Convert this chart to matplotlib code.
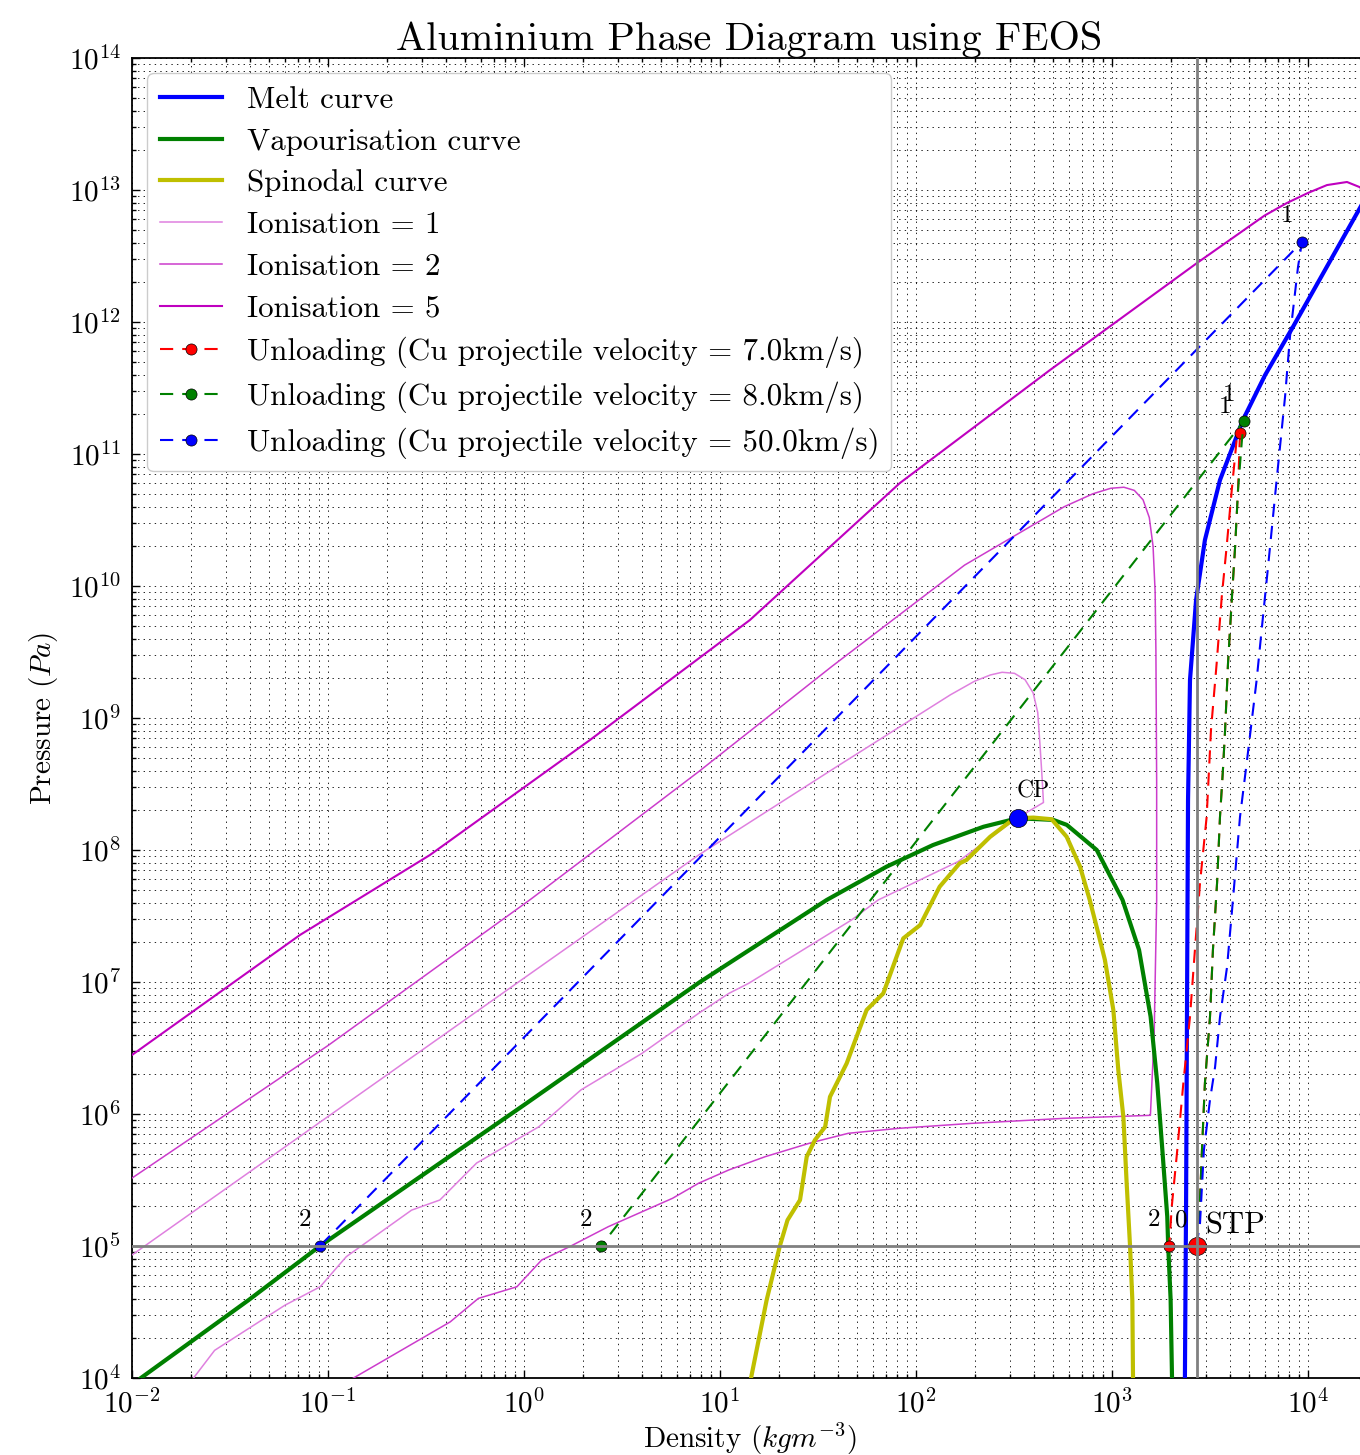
import numpy as np
import matplotlib
matplotlib.use("Agg")
import matplotlib.pyplot as plt
from matplotlib.ticker import LogLocator, NullFormatter

plt.rcParams['font.family'] = 'serif'
plt.rcParams['font.serif'] = ['cmr10']
plt.rcParams['mathtext.fontset'] = 'cm'
plt.rcParams['axes.formatter.use_mathtext'] = True
plt.rcParams['lines.scale_dashes'] = False

# ---------------- data ----------------
stp_rho, stp_P = 2700.0, 1e5
cp_rho, cp_P = 330.0, 1.74e8

melt_rho = [2355, 2388, 2415, 2443, 2500, 2685, 2979, 3556, 4656, 6039, 8375, 12220, 18410, 20900]
melt_P = [1e4, 2.23e5, 7.31e6, 2.39e8, 1.94e9, 7.83e9, 2.23e10, 6.35e10, 1.81e11, 3.96e11,
          9.16e11, 2.48e12, 7.31e12, 1.03e13]

vap_rho = [0.0111, 0.0394, 0.091, 1.0, 7.9, 35.0, 70.8, 122, 221, 330, 502, 588, 836, 1132,
           1374, 1574, 1702, 1807, 1914, 1935, 1991, 2024]
vap_P = [1e4, 3.9e4, 1e5, 1.17e6, 1.0e7, 4.18e7, 7.48e7, 1.09e8, 1.50e8, 1.74e8, 1.69e8,
         1.55e8, 1.0e8, 4.18e7, 1.75e7, 5.46e6, 1.71e6, 5.33e5, 1.67e5, 1e5, 3.94e4, 1e4]

spin_rho = [14.4, 17.3, 20.2, 22.1, 25.6, 27.7, 30.5, 34.4, 36.4, 44.3, 49.8, 56.0, 68.1, 86.1,
            105, 132, 167, 181, 239, 302, 330, 397, 492, 587, 687, 770, 851, 920, 1016, 1077,
            1143, 1188, 1236, 1270, 1280]
spin_P = [1e4, 3.9e4, 1e5, 1.57e5, 2.23e5, 4.75e5, 6.35e5, 8.0e5, 1.35e6, 2.42e6, 3.86e6,
          6.14e6, 8.2e6, 2.14e7, 2.70e7, 5.27e7, 7.93e7, 8.4e7, 1.26e8, 1.64e8, 1.74e8,
          1.76e8, 1.71e8, 1.26e8, 7.48e7, 4.18e7, 2.34e7, 1.47e7, 6.14e6, 2.15e6, 9.5e5,
          2.99e5, 1e5, 3.9e4, 1e4]

ion1_rho = [0.01, 1.0, 7.78, 39.4, 150, 199, 240, 275, 318, 360, 396, 418, 430, 440, 447, 327,
            164, 64.1, 46.9, 14.0, 11.1, 7.78, 4.0, 1.95, 1.19, 0.573, 0.372, 0.267, 0.124,
            0.0912, 0.0603, 0.0264, 0.0206, 0.0178]
ion1_P = [8.55e4, 1.07e7, 9.16e7, 4.28e8, 1.5e9, 1.9e9, 2.12e9, 2.22e9, 2.18e9, 1.95e9,
          1.55e9, 1.1e9, 6.0e8, 3.5e8, 2.29e8, 1.74e8, 8.17e7, 4.18e7, 2.95e7, 9.77e6, 8.2e6,
          5.79e6, 2.88e6, 1.52e6, 8.0e5, 4.25e5, 2.23e5, 1.87e5, 8.3e4, 4.91e4, 3.56e4,
          1.62e4, 1e4, 7.9e3]

ion2_rho = [0.01, 0.1, 1.09, 7.78, 37.1, 177, 571, 800, 986, 1150, 1300, 1440, 1550, 1620,
            1660, 1675, 1690, 1690, 1641, 1570, 571, 191, 80.9, 45.1, 29.3, 17.0, 11.1, 7.78,
            5.73, 2.69, 1.71, 1.23, 0.92, 0.585, 0.42, 0.135, 0.112]
ion2_P = [3.27e5, 3.3e6, 4.27e7, 3.92e8, 2.45e9, 1.44e10, 3.99e10, 5.0e10, 5.50e10, 5.6e10,
          5.3e10, 4.5e10, 3.3e10, 2.0e10, 9.0e9, 3.27e9, 3.20e8, 4.18e7, 3.98e6, 9.77e5,
          9.27e5, 8.49e5, 7.78e5, 7.14e5, 6.07e5, 4.75e5, 3.77e5, 2.99e5, 2.30e5, 1.40e5,
          9.89e4, 7.83e4, 4.91e4, 4.01e4, 2.66e4, 1e4, 8.5e3]

ion5_rho = [0.01, 0.0719, 0.331, 2.17, 14.2, 82.8, 483, 2716, 6000, 7816, 10000,
            12500, 15810, 18400, 20700]
ion5_P = [2.80e6, 2.27e7, 9.16e7, 6.81e8, 5.52e9, 6.03e10, 4.33e11, 2.80e12,
          6.4e12, 7.98e12, 9.5e12, 1.09e13, 1.15e13, 1.05e13, 8.4e12]

# Unloading paths: Hugoniot from STP (0) to shocked state (1), then release to 1 bar (2)
red_hug_rho = [2700, 2780, 2877, 2979, 3162, 3273, 3436, 3556, 3681, 3776, 3908, 4093, 4246, 4395, 4498]
red_hug_P = [1e5, 1.49e5, 5.33e5, 1.72e6, 5.43e6, 1.75e7, 5.62e7, 1.78e8, 4.04e8, 8.11e8,
             2.61e9, 8.26e9, 1.97e10, 5.33e10, 1.44e11]
red_rel_rho = [4498, 4325, 4083, 3846, 3631, 3420, 3199, 3041, 2812, 2649, 2500, 2312, 2153, 2018, 1960]
red_rel_P = [1.44e11, 1.28e11, 5.33e10, 1.99e10, 8.3e9, 2.6e9, 8.11e8, 1.79e8, 5.62e7,
             1.75e7, 5.46e6, 1.71e6, 5.33e5, 1.99e5, 1e5]

green_hug_rho = [2700, 2780, 2877, 2979, 3162, 3273, 3436, 3556, 3681, 3776, 3908, 4093, 4246, 4395, 4603, 4710]
green_hug_P = [1e5, 1.49e5, 5.33e5, 1.72e6, 5.43e6, 1.75e7, 5.62e7, 1.78e8, 4.04e8, 8.11e8,
               2.61e9, 8.26e9, 1.97e10, 5.33e10, 1.28e11, 1.78e11]
green_rel_rho = [4710, 2.47]
green_rel_P = [1.78e11, 1e5]

blue_hug_rho = [2700, 2812, 2944, 3162, 3357, 3556, 3864, 4140, 4498, 4887, 5470, 5916, 6281,
                6918, 7638, 8091, 8892, 9311]
blue_hug_P = [1e5, 1.49e5, 5.33e5, 1.28e6, 2.27e6, 5.43e6, 1.30e7, 4.18e7, 1.78e8, 4.81e8,
              1.94e9, 6.21e9, 1.49e10, 6.35e10, 2.72e11, 7.74e11, 2.61e12, 4.04e12]
blue_rel_rho = [9311, 0.091]
blue_rel_P = [4.04e12, 1e5]

velocities = ['7.0', '8.0', '50.0']

# ---------------- figure ----------------
fig = plt.figure(figsize=(13.6, 14.55), dpi=100)
ax = fig.add_axes([132/1360, 1-1378/1455, (1367-132)/1360, (1378-58)/1455])
ax.set_xscale('log')
ax.set_yscale('log')

ax.plot(melt_rho, melt_P, color='b', lw=3, label='Melt curve', zorder=4)
ax.plot(vap_rho, vap_P, color='g', lw=3, label='Vapourisation curve', zorder=4)
ax.plot(spin_rho, spin_P, color=(0.75, 0.75, 0), lw=3, label='Spinodal curve', zorder=4)
ax.plot(ion1_rho, ion1_P, color='#df80df', lw=1.1, label='Ionisation = 1', zorder=3)
ax.plot(ion2_rho, ion2_P, color='#cc3ccc', lw=1.1, label='Ionisation = 2', zorder=3)
ax.plot(ion5_rho, ion5_P, color='#bf00bf', lw=1.5, label='Ionisation = 5', zorder=3)

unload = [
    (red_hug_rho, red_hug_P, red_rel_rho, red_rel_P, 'r'),
    (green_hug_rho, green_hug_P, green_rel_rho, green_rel_P, 'g'),
    (blue_hug_rho, blue_hug_P, blue_rel_rho, blue_rel_P, 'b'),
]
lab_off = (-10.8, 18.7)
for (hr, hp, rr, rp, c), v in zip(unload, velocities):
    xs = list(hr) + list(rr[1:])
    ys = list(hp) + list(rp[1:])
    i1 = len(hr) - 1
    ax.plot(xs, ys, color=c, lw=1.5, dashes=(9.5, 6.5), marker='o', ms=8, mec='k', mew=0.5,
            markevery=[i1, len(xs) - 1], zorder=5,
            label='Unloading (Cu projectile velocity = %skm/s)' % v)
    ax.annotate('1', (hr[-1], hp[-1]), xytext=lab_off, textcoords='offset points',
                ha='center', va='center', fontsize=18, zorder=7)
    ax.annotate('2', (rr[-1], rp[-1]), xytext=lab_off, textcoords='offset points',
                ha='center', va='center', fontsize=18, zorder=7)
ax.annotate('0', (stp_rho, stp_P), xytext=lab_off, textcoords='offset points',
            ha='center', va='center', fontsize=18, zorder=7)

ax.axhline(stp_P, color='gray', lw=2, zorder=6)
ax.axvline(stp_rho, color='gray', lw=2, zorder=6)

ax.plot([stp_rho], [stp_P], 'o', color='r', ms=13, mec='k', mew=0.5, zorder=5)
ax.annotate('STP', (stp_rho, stp_P), xytext=(6, 14.4), textcoords='offset points',
            ha='left', va='center', fontsize=22, zorder=7)
ax.plot([cp_rho], [cp_P], 'o', color='b', ms=13, mec='k', mew=0.5, zorder=6)
ax.annotate('CP', (cp_rho, cp_P), xytext=(11.5, 19), textcoords='offset points',
            ha='center', va='center', fontsize=17, zorder=7)

ax.set_xlim(1e-2, 2e4)
ax.set_ylim(1e4, 1e14)
ax.xaxis.set_major_locator(LogLocator(base=10, numticks=30))
ax.yaxis.set_major_locator(LogLocator(base=10, numticks=30))
ax.xaxis.set_minor_locator(LogLocator(base=10, subs=np.arange(2, 10), numticks=300))
ax.yaxis.set_minor_locator(LogLocator(base=10, subs=np.arange(2, 10), numticks=300))
ax.xaxis.set_minor_formatter(NullFormatter())
ax.yaxis.set_minor_formatter(NullFormatter())
ax.tick_params(which='both', direction='in', top=True, right=True, width=1)
ax.tick_params(which='major', length=6, labelsize=21, pad=8)
ax.tick_params(which='minor', length=3)
ax.grid(True, which='both', linestyle=(0, (1, 3)), color='k', lw=0.6)
for s in ax.spines.values():
    s.set_linewidth(1.3)

ax.set_title('Aluminium Phase Diagram using FEOS', fontsize=29, pad=2)
ax.set_xlabel('Density ($kgm^{-3}$)', fontsize=21, labelpad=2)
ax.set_ylabel('Pressure ($Pa$)', fontsize=21, labelpad=6)

leg = ax.legend(loc='upper left', fontsize=22.3, numpoints=1, fancybox=True,
                edgecolor='0.8', framealpha=1.0, borderaxespad=0.5, labelspacing=0.445)
leg.set_zorder(10)

fig.savefig('out.png', dpi=100)
